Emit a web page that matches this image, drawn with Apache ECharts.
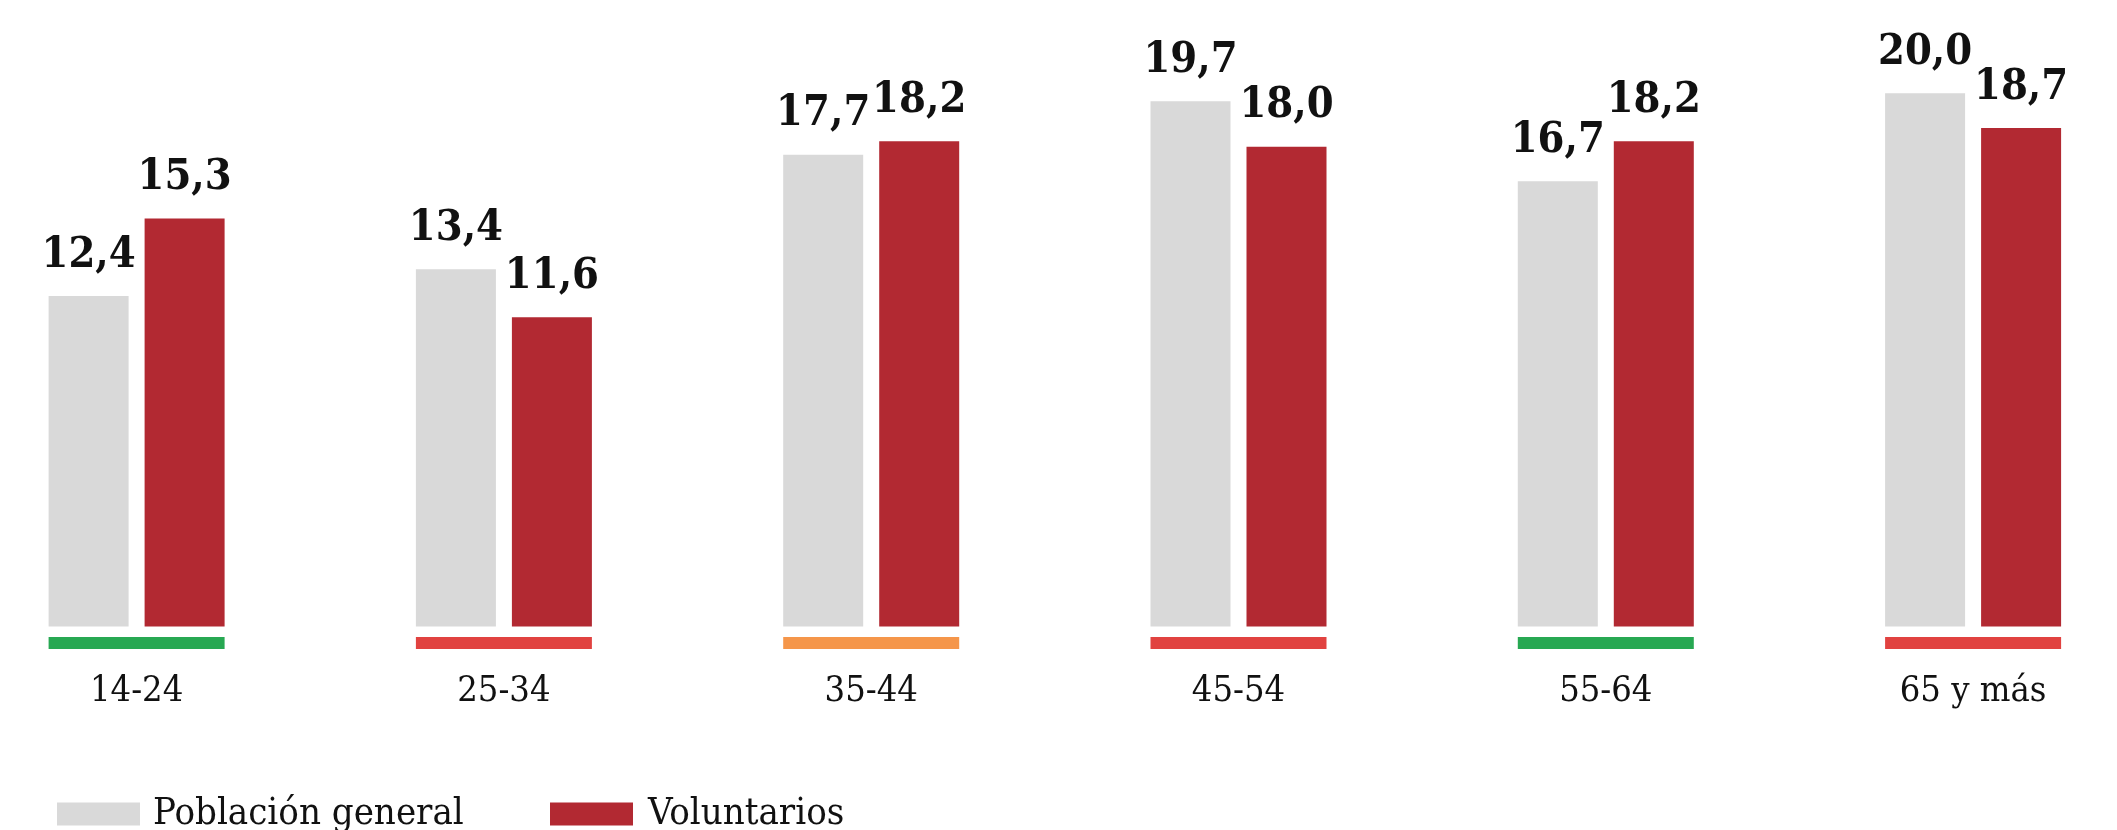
<!DOCTYPE html>
<html><head><meta charset="utf-8">
<script src="https://cdn.jsdelivr.net/npm/echarts@6/dist/echarts.min.js"></script>
<style>html,body{margin:0;padding:0;background:#fff}#c{width:2117px;height:830px}</style>
</head><body><div id="c"></div>
<script>
const categories = ['14-24', '25-34', '35-44', '45-54', '55-64', '65 y más'];
const poblacionGeneral = [12.4, 13.4, 17.7, 19.7, 16.7, 20.0];
const voluntarios = [15.3, 11.6, 18.2, 18.0, 18.2, 18.7];
const underlineColors = ['#27a852', '#e14240', '#f5964a', '#e14240', '#27a852', '#e14240'];
const seriesNames = ['Población general', 'Voluntarios'];

const FONT = "'DejaVu Serif Condensed', 'DejaVu Serif', serif";
const GREY = '#d9d9d9', RED = '#b22932';
const BAR_W = 80, BAR_GAP = 16;

const chart = echarts.init(document.getElementById('c'), null, {renderer: 'canvas'});
const fmt = p => p.value.toFixed(1).replace('.', ',');
const valueLabel = {
  show: true, position: 'top', distance: 19, formatter: fmt,
  fontFamily: FONT, fontSize: 43, fontWeight: 'bold', color: '#111'
};
chart.setOption({
  animation: false,
  backgroundColor: '#fff',
  grid: {left: 136.6, right: 143.9, top: 40, bottom: 203.5, containLabel: false},
  legend: [
    {data: [seriesNames[0]], left: 57, top: 795, padding: 0, itemWidth: 83, itemHeight: 23, icon: 'rect',
     textStyle: {fontFamily: FONT, fontSize: 38, color: '#111', padding: [0, 0, 0, 8]}},
    {data: [seriesNames[1]], left: 550, top: 795, padding: 0, itemWidth: 83, itemHeight: 23, icon: 'rect',
     textStyle: {fontFamily: FONT, fontSize: 38, color: '#111', padding: [0, 0, 0, 10]}}
  ],
  xAxis: {
    type: 'category', data: categories, boundaryGap: false,
    axisLine: {show: false}, axisTick: {show: false}, splitLine: {show: false},
    axisLabel: {margin: 47, fontFamily: FONT, fontSize: 36, color: '#111', interval: 0}
  },
  yAxis: {type: 'value', min: 0, max: 22, show: false, splitLine: {show: false}},
  series: [
    {name: seriesNames[0], type: 'bar', data: poblacionGeneral, barWidth: BAR_W,
     barGap: (BAR_GAP / BAR_W * 100) + '%', itemStyle: {color: GREY}, label: valueLabel},
    {name: seriesNames[1], type: 'bar', data: voluntarios, barWidth: BAR_W,
     itemStyle: {color: RED}, label: valueLabel},
    {name: 'rating', type: 'custom', silent: true, clip: false,
     data: underlineColors.map((c, i) => ({value: [i, 0], itemStyle: {color: c}})),
     renderItem: (params, api) => {
       const p = api.coord([api.value(0), 0]);
       const w = BAR_W * 2 + BAR_GAP;
       return {type: 'rect', shape: {x: p[0] - w / 2, y: p[1] + 10.5, width: w, height: 12},
               style: {fill: api.visual('color')}};
     }}
  ]
});
</script></body></html>
